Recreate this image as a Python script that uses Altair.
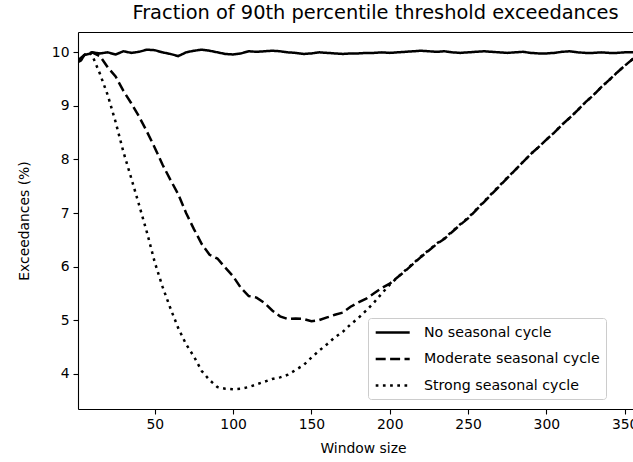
import altair as alt
import pandas as pd

window = [1, 3, 5, 8, 10,
          15, 20, 25, 30, 35, 40, 45, 50, 55, 60, 65, 70, 75, 80, 85, 90, 95, 100,
          105, 110, 115, 120, 125, 130, 135, 140, 145, 150, 155, 160, 165, 170, 175, 180,
          185, 190, 195, 200, 205, 210, 215, 220, 225, 230, 235, 240, 245, 250, 255, 260,
          265, 270, 275, 280, 285, 290, 295, 300, 305, 310, 315, 320, 325, 330, 335, 340,
          345, 350, 355, 360, 365]

no_cycle = [9.82, 9.85, 9.95, 9.97, 10.0,
            9.98, 10.0, 9.96, 10.02, 9.99, 10.01, 10.05, 10.04, 10.0, 9.97, 9.93, 10.0, 10.03, 10.05, 10.03, 10.0, 9.97, 9.96,
            9.98, 10.02, 10.01, 10.02, 10.03, 10.02, 10.0, 9.99, 9.97, 9.98, 10.0, 9.99, 9.98, 9.97, 9.98, 9.98,
            9.99, 9.99, 10.0, 9.99, 10.0, 10.01, 10.02, 10.03, 10.02, 10.01, 10.02, 10.0, 9.99, 10.0, 10.01, 10.02,
            10.01, 10.0, 9.99, 10.0, 10.01, 9.99, 9.98, 9.98, 9.99, 10.01, 10.02, 10.0, 9.99, 9.99, 10.0, 9.99,
            9.99, 10.0, 10.0, 10.0, 10.0]

moderate = [9.85, 9.9, 9.95, 9.98, 10.0,
            9.93, 9.72, 9.55, 9.28, 9.05, 8.8, 8.52, 8.22, 7.9, 7.62, 7.35, 7.0, 6.7, 6.42, 6.22, 6.15, 5.98, 5.82,
            5.6, 5.45, 5.42, 5.32, 5.18, 5.07, 5.02, 5.03, 5.02, 4.98, 5.0, 5.05, 5.1, 5.14, 5.25, 5.33,
            5.4, 5.5, 5.6, 5.68, 5.8, 5.92, 6.05, 6.18, 6.3, 6.42, 6.52, 6.65, 6.78, 6.9, 7.05, 7.2,
            7.35, 7.5, 7.65, 7.8, 7.95, 8.1, 8.23, 8.37, 8.5, 8.65, 8.78, 8.92, 9.07, 9.2, 9.35, 9.48,
            9.62, 9.75, 9.87, 9.98, 10.0]

strong = [9.85, 9.9, 9.95, 10.0, 9.95,
          9.6, 9.2, 8.7, 8.14, 7.65, 7.15, 6.64, 6.08, 5.62, 5.22, 4.85, 4.55, 4.32, 4.05, 3.88, 3.75, 3.72, 3.71,
          3.72, 3.75, 3.8, 3.85, 3.9, 3.93, 3.98, 4.07, 4.16, 4.3, 4.43, 4.55, 4.68, 4.78, 4.92, 5.04,
          5.18, 5.33, 5.5, 5.66, 5.8, 5.93, 6.06, 6.19, 6.31, 6.43, 6.53, 6.66, 6.79, 6.91, 7.06, 7.21,
          7.36, 7.51, 7.66, 7.8, 7.95, 8.1, 8.23, 8.37, 8.5, 8.65, 8.78, 8.92, 9.07, 9.2, 9.35, 9.48,
          9.62, 9.75, 9.87, 9.98, 10.0]

series_names = ["No seasonal cycle", "Moderate seasonal cycle", "Strong seasonal cycle"]
x_ticks = [50, 100, 150, 200, 250, 300, 350]
y_ticks = [4, 5, 6, 7, 8, 9, 10]

rows = []
for name, vals in zip(series_names, [no_cycle, moderate, strong]):
    for w, v in zip(window, vals):
        rows.append({"window": w, "value": v, "series": name})
df = pd.DataFrame(rows)

FONT = "DejaVu Sans"
x_scale = alt.Scale(domain=[1, 355.3], nice=False, zero=False)
y_scale = alt.Scale(domain=[3.34, 10.38], nice=False, zero=False)

lines = alt.Chart(df).mark_line(color="black", strokeWidth=2.5, clip=True, strokeCap="butt").encode(
    x=alt.X("window:Q", scale=x_scale,
            axis=alt.Axis(values=x_ticks, title="Window size", grid=False, tickSize=5,
                          labelPadding=3, labelFontSize=13.9, titleFontSize=13.9,
                          titleFontWeight="normal", labelFont=FONT, titleFont=FONT,
                          labelColor="black", titleColor="black", tickColor="black",
                          domainColor="black", domainWidth=1.1, tickWidth=1.1,
                          titleX=285, titleY=39, titleBaseline="middle", titleAlign="center")),
    y=alt.Y("value:Q", scale=y_scale,
            axis=alt.Axis(values=y_ticks, title="Exceedances (%)", grid=False, tickSize=5,
                          labelPadding=4, labelFontSize=13.9, titleFontSize=13.9,
                          titleFontWeight="normal", labelFont=FONT, titleFont=FONT,
                          labelColor="black", titleColor="black", tickColor="black",
                          domainColor="black", domainWidth=1.1, tickWidth=1.1,
                          titleX=-54, titleY=188.5, titleAngle=270, titleBaseline="middle",
                          titleAlign="center")),
    strokeDash=alt.StrokeDash(
        "series:N",
        scale=alt.Scale(domain=series_names, range=[[1, 0], [10, 4.4], [2.7, 4.5]]),
        legend=alt.Legend(title=None, orient="none", legendX=290, legendY=286,
                          symbolType="M-1,0H4", symbolSize=185, symbolStrokeWidth=2.5,
                          symbolStrokeColor="black", labelOffset=33, labelFontSize=14.2,
                          labelFont=FONT, labelColor="black", rowPadding=10.5, padding=6,
                          fillColor="rgba(255,255,255,0.8)", strokeColor="#cccccc",
                          cornerRadius=3, labelLimit=400),
    ),
    detail="series:N",
)

top_frame = alt.Chart(df).mark_rule(opacity=0, clip=True).encode(
    x=alt.X("window:Q", scale=x_scale,
            axis=alt.Axis(orient="top", labels=False, ticks=False, title=None, grid=False,
                          domainColor="black", domainWidth=1.1)),
)

chart = alt.layer(lines, top_frame).resolve_axis(x="independent").properties(
    width=555,
    height=377,
    autosize=alt.AutoSizeParams(type="none"),
    padding={"left": 78, "top": 32, "right": 0, "bottom": 53},
    title=alt.TitleParams("Fraction of 90th percentile threshold exceedances", fontSize=19.4,
                          font=FONT, fontWeight="normal", color="black", anchor="middle",
                          dx=20, offset=9),
).configure_view(stroke=None).configure(background="white")

chart.save("out.html", embed_options={"renderer": "svg", "actions": False})
